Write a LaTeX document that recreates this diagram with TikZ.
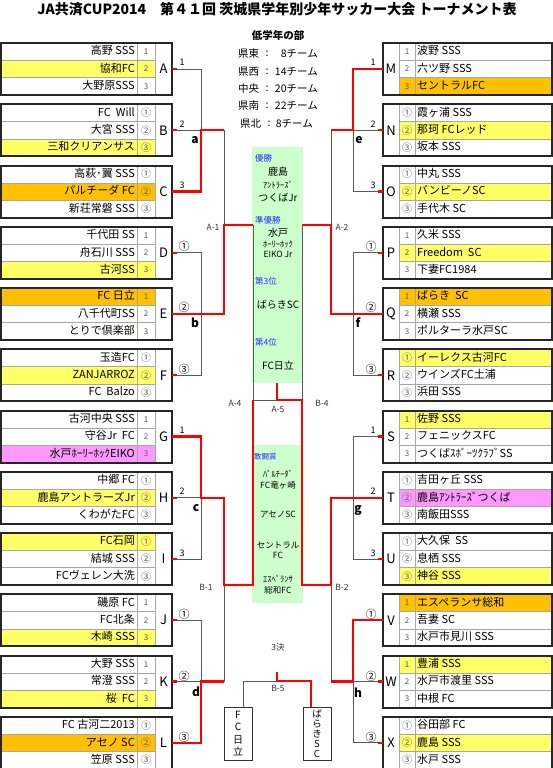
\documentclass[tikz,border=0pt]{standalone}
\usepackage{fontspec}
\setmainfont{Noto Sans CJK JP}
\definecolor{yel}{RGB}{255,255,102}
\definecolor{org}{RGB}{255,192,0}
\definecolor{pnk}{RGB}{255,153,255}
\definecolor{grn}{RGB}{204,255,204}
\definecolor{blu}{RGB}{40,40,255}
\definecolor{rd}{RGB}{255,0,0}
\definecolor{gl}{RGB}{90,90,90}
\newcommand\crc{\fontsize{10}{10}\selectfont}
\tikzset{
  gline/.style={draw=gl, line width=0.8pt},
  rline/.style={draw=rd, line width=2.4pt},
  cellline/.style={draw=black!35, line width=0.6pt},
  boxline/.style={draw=black!85, line width=2pt},
  nametxt/.style={font=\fontsize{11}{11}\selectfont, inner sep=0pt, text height=8.5pt, text depth=2pt},
  numtxt/.style={font=\fontsize{8}{8}\selectfont, text=black!65, inner sep=0pt},
  lettercell/.style={font=\fontsize{13}{13}\selectfont, inner sep=0pt, minimum height=52pt},
  blab/.style={font=\fontsize{9}{9}\selectfont, inner sep=0pt},
  clab/.style={font=\fontsize{11}{11}\selectfont, inner sep=0pt},
  brl/.style={font=\bfseries\fontsize{12}{12}\selectfont, inner sep=0pt},
  mlab/.style={font=\fontsize{8.5}{8.5}\selectfont, text=black!80, inner sep=0pt},
  infotxt/.style={font=\fontsize{10.5}{10.5}\selectfont, inner sep=0pt},
  bluetxt/.style={font=\fontsize{8.5}{8.5}\selectfont, text=blu, inner sep=0pt, anchor=west},
  gtxt/.style={font=\fontsize{10}{10}\selectfont, inner sep=0pt},
  gsmall/.style={font=\fontsize{8.5}{8.5}\selectfont, inner sep=0pt},
  vbox/.style={draw=black!80, line width=0.7pt, minimum width=28pt, minimum height=53pt, inner sep=0pt, align=center},
}
% left row: letter, top, k, fill, num, name
\newcommand\LR[6]{%
  \fill[#4] (0,{#2+17.333*#3}) rectangle (155,{#2+17.333*(#3+1)});
  \node[numtxt] (#1n#3) at (146,{#2+17.333*#3+8.667}) {#5};
  \node[nametxt,anchor=east] (#1t#3) at (135,{#2+17.333*#3+8.667}) {#6};
}
\newcommand\LG[5]{%
  \LR{#1}{#2}{0}#3
  \LR{#1}{#2}{1}#4
  \LR{#1}{#2}{2}#5
  \draw[cellline] (1,{#2+17.333}) -- (155,{#2+17.333});
  \draw[cellline] (1,{#2+34.667}) -- (155,{#2+34.667});
  \draw[cellline] (137,#2) -- (137,{#2+52});
  \draw[cellline] (155,#2) -- (155,{#2+52});
  \node[lettercell, minimum width=17pt] (#1) at (163.5,{#2+26}) {#1};
  \draw[boxline] (1,#2) rectangle (172,{#2+52});
}
% right row
\newcommand\RR[6]{%
  \fill[#4] (399,{#2+17.333*#3}) rectangle (552,{#2+17.333*(#3+1)});
  \node[numtxt] (#1n#3) at (407,{#2+17.333*#3+8.667}) {#5};
  \node[nametxt,anchor=west] (#1t#3) at (417,{#2+17.333*#3+8.667}) {#6};
}
\newcommand\RG[5]{%
  \RR{#1}{#2}{0}#3
  \RR{#1}{#2}{1}#4
  \RR{#1}{#2}{2}#5
  \draw[cellline] (399,{#2+17.333}) -- (552,{#2+17.333});
  \draw[cellline] (399,{#2+34.667}) -- (552,{#2+34.667});
  \draw[cellline] (399,#2) -- (399,{#2+52});
  \draw[cellline] (415,#2) -- (415,{#2+52});
  \node[lettercell, minimum width=16pt] (#1) at (391,{#2+26}) {#1};
  \draw[boxline] (383,#2) rectangle (552,{#2+52});
}
\begin{document}
\begin{tikzpicture}[x=1pt,y=-1pt]
\useasboundingbox (0,0) rectangle (553,768);
\fill[white] (0,0) rectangle (553,768);

% title and info
\node[font=\bfseries\fontsize{14}{14}\selectfont, inner sep=0pt] (title) at (277,9) {JA共済CUP2014　第４１回 茨城県学年別少年サッカー大会 トーナメント表};
\node[font=\bfseries\fontsize{10.5}{10.5}\selectfont, inner sep=0pt] (bu) at (278,35) {低学年の部};
\node[infotxt,anchor=west] (k1) at (238,54) {県東};
\node[infotxt] (k1c) at (267,54) {:};
\node[infotxt,anchor=east] (k1n) at (318,54) {8チーム};
\node[infotxt,anchor=west] (k2) at (238,72) {県西};
\node[infotxt] (k2c) at (267,72) {:};
\node[infotxt,anchor=east] (k2n) at (318,72) {14チーム};
\node[infotxt,anchor=west] (k3) at (238,89) {中央};
\node[infotxt] (k3c) at (267,89) {:};
\node[infotxt,anchor=east] (k3n) at (318,89) {20チーム};
\node[infotxt,anchor=west] (k4) at (238,106) {県南};
\node[infotxt] (k4c) at (267,106) {:};
\node[infotxt,anchor=east] (k4n) at (318,106) {22チーム};
\node[infotxt,anchor=west] (k5) at (240,124) {県北};
\node[infotxt] (k5c) at (269,124) {:};
\node[infotxt,anchor=east] (k5n) at (313,124) {8チーム};

% green boxes
\node[fill=grn, minimum width=51pt, minimum height=236pt, inner sep=0pt] (gb1) at (277.5,265) {};
\node[fill=grn, minimum width=51pt, minimum height=158pt, inner sep=0pt] (gb2) at (277.5,524) {};
\node[bluetxt] (p1) at (255,158) {優勝};
\node[gtxt] (w1a) at (278,172) {鹿島};
\node[gsmall] (w1b) at (278,185) {ｱﾝﾄﾗｰｽﾞ};
\node[gtxt] (w1c) at (278,198) {つくばJr};
\node[bluetxt] (p2) at (255,220) {準優勝};
\node[gtxt] (w2a) at (278,233) {水戸};
\node[gsmall] (w2b) at (278,244) {ﾎｰﾘｰﾎｯｸ};
\node[gsmall] (w2c) at (278,254) {EIKO Jr};
\node[bluetxt] (p3) at (255,281) {第3位};
\node[gtxt] (w3) at (278,305) {ばらきSC};
\node[bluetxt] (p4) at (255,342) {第4位};
\node[gtxt] (w4) at (278,366) {FC日立};
\node[bluetxt, font=\fontsize{7.5}{7.5}\selectfont] (p5) at (254,457) {敢闘賞};
\node[gsmall] (f1a) at (278,474) {ﾊﾟﾙﾁｰﾀﾞ};
\node[gsmall] (f1b) at (278,485) {FC竜ヶ崎};
\node[gsmall] (f2) at (278,514) {アセノSC};
\node[gsmall] (f3a) at (278,545) {セントラル};
\node[gsmall] (f3b) at (278,555) {FC};
\node[gsmall] (f4a) at (278,579) {ｴｽﾍﾟﾗﾝｻ};
\node[gsmall] (f4b) at (278,590) {総和FC};

% left groups
\LG{A}{43}{{white}{1}{高野 SSS}}{{yel}{2}{協和FC}}{{white}{3}{大野原SSS}}
\LG{B}{104.25}{{white}{{\crc ①}}{FC\ \ Will}}{{white}{{\crc ②}}{大宮 SSS}}{{yel}{{\crc ③}}{三和クリアンサス}}
\LG{C}{165.5}{{white}{{\crc ①}}{高萩･翼 SSS}}{{org}{{\crc ②}}{パルチーダ FC}}{{white}{{\crc ③}}{新荘常磐 SSS}}
\LG{D}{226.75}{{white}{1}{千代田 SS}}{{white}{2}{舟石川 SSS}}{{yel}{3}{古河SS}}
\LG{E}{288}{{org}{1}{FC 日立}}{{white}{2}{八千代町SS}}{{white}{3}{とりで倶楽部}}
\LG{F}{349.25}{{white}{{\crc ①}}{玉造FC}}{{yel}{{\crc ②}}{ZANJARROZ\hspace{11pt}}}{{white}{{\crc ③}}{FC\ \ Balzo}}
\LG{G}{410.5}{{white}{1}{古河中央 SSS}}{{white}{2}{守谷Jr\ \ FC}}{{pnk}{3}{水戸ﾎｰﾘｰﾎｯｸEIKO}}
\LG{H}{471.75}{{white}{{\crc ①}}{中郷 FC}}{{yel}{{\crc ②}}{鹿島アントラーズJr}}{{white}{{\crc ③}}{くわがたFC}}
\LG{I}{533}{{yel}{{\crc ①}}{FC石岡}}{{white}{{\crc ②}}{結城 SSS}}{{white}{{\crc ③}}{FCヴェレン大洗}}
\LG{J}{594.25}{{white}{1}{磯原 FC}}{{white}{2}{FC北条}}{{yel}{3}{木崎 SSS}}
\LG{K}{655.5}{{white}{1}{大野 SSS}}{{white}{2}{常澄 SSS}}{{yel}{3}{桜\ \ FC}}
\LG{L}{716.75}{{white}{{\crc ①}}{FC 古河二2013}}{{org}{{\crc ②}}{アセノ SC}}{{white}{{\crc ③}}{笠原 SSS}}

% right groups
\RG{M}{43}{{white}{1}{波野 SSS}}{{white}{2}{六ツ野 SSS}}{{org}{3}{セントラルFC}}
\RG{N}{104.25}{{white}{{\crc ①}}{霞ヶ浦 SSS}}{{yel}{{\crc ②}}{那珂 FCレッド}}{{white}{{\crc ③}}{坂本 SSS}}
\RG{O}{165.5}{{white}{{\crc ①}}{中丸 SSS}}{{yel}{{\crc ②}}{バンビーノSC}}{{white}{{\crc ③}}{手代木 SC}}
\RG{P}{226.75}{{white}{1}{久米 SSS}}{{yel}{2}{Freedom\ \ SC}}{{white}{3}{下妻FC1984}}
\RG{Q}{288}{{org}{1}{ばらき\ \ SC}}{{white}{2}{横瀬 SSS}}{{white}{3}{ポルターラ水戸SC}}
\RG{R}{349.25}{{yel}{{\crc ①}}{イーレクス古河FC}}{{white}{{\crc ②}}{ウインズFC土浦}}{{white}{{\crc ③}}{浜田 SSS}}
\RG{S}{410.5}{{yel}{1}{佐野 SSS}}{{white}{2}{フェニックスFC}}{{white}{3}{つくばｽﾎﾟｰﾂｸﾗﾌﾞSS}}
\RG{T}{471.75}{{white}{{\crc ①}}{吉田ヶ丘 SSS}}{{pnk}{{\crc ②}}{鹿島ｱﾝﾄﾗｰｽﾞつくば}}{{white}{{\crc ③}}{南飯田SSS}}
\RG{U}{533}{{white}{{\crc ①}}{大久保\ \ SS}}{{white}{{\crc ②}}{息栖 SSS}}{{yel}{{\crc ③}}{神谷 SSS}}
\RG{V}{594.25}{{org}{1}{エスペランサ総和}}{{white}{2}{吾妻 SC}}{{white}{3}{水戸市見川 SSS}}
\RG{W}{655.5}{{yel}{1}{豊浦 SSS}}{{white}{2}{水戸市渡里 SSS}}{{white}{3}{中根 FC}}
\RG{X}{716.75}{{white}{{\crc ①}}{谷田部 FC}}{{yel}{{\crc ②}}{鹿島 SSS}}{{white}{{\crc ③}}{水戸 SSS}}

% junction coordinates
\coordinate (a1) at (201,69); \coordinate (a2) at (201,130.25); \coordinate (a3) at (201,191.5);
\coordinate (aout) at (224,130.25); \coordinate (A1m) at (224,225); \coordinate (A1e) at (224,314);
\coordinate (b1) at (201,252.75); \coordinate (b3) at (201,375.25);
\coordinate (c1) at (201,436.5); \coordinate (c2) at (201,497.75); \coordinate (c3) at (201,559);
\coordinate (cout) at (224,497.75);
\coordinate (d1) at (201,620.25); \coordinate (d2) at (201,681.5); \coordinate (d3) at (201,742.75);
\coordinate (dout) at (224,681.5); \coordinate (B1m) at (224,585);
\coordinate (A4t) at (253,225); \coordinate (A4m) at (253,400); \coordinate (A4b) at (253,585);
\coordinate (fin) at (277,400); \coordinate (finT) at (277,383);
\coordinate (e1) at (353,69); \coordinate (e2) at (353,130.25); \coordinate (e3) at (353,191.5);
\coordinate (eout) at (331,130.25); \coordinate (A2m) at (331,225); \coordinate (A2e) at (331,314);
\coordinate (f1) at (353,252.75); \coordinate (f3) at (353,375.25);
\coordinate (g1) at (353,436.5); \coordinate (g3) at (353,559); \coordinate (gT) at (331,497.75);
\coordinate (h1) at (353,620.25); \coordinate (h2) at (353,681.5); \coordinate (h3) at (353,742.75);
\coordinate (hout) at (331,681.5); \coordinate (B2m) at (331,585);
\coordinate (B4t) at (302,225); \coordinate (B4m) at (302,400); \coordinate (B4b) at (302,585);
\coordinate (t5L) at (243,681); \coordinate (t5M) at (277,681); \coordinate (t5T) at (277,672); \coordinate (t5R) at (311,681);

% third place boxes
\node[vbox, font=\fontsize{10}{12.3}\selectfont] (fc) at (238,733.5) {F\\C\\日\\立};
\node[vbox, font=\fontsize{9.5}{10}\selectfont] (bsc) at (317,733.5) {ば\\ら\\き\\S\\C};

% gray connectors
\draw[gline] (A.east) -- (a1) -- (a3);
\draw[gline] (B.east) -- (a2);
\draw[gline] (aout) -- (A1m);
\draw[gline] (D.east) -- (b1) -- (b3) -- (F.east);
\draw[gline] (A4t) -- (A4m) -- (fin);
\draw[gline] (H.east) -- (c2) -- (c3) -- (I.east);
\draw[gline] (J.east) -- (d1) -- (d2);
\draw[gline] (K.east) -- (d2);
\draw[gline] (dout) -- (B1m);
\draw[gline] (N.west) -- (e2) -- (e3) -- (O.west);
\draw[gline] (eout) -- (A2m);
\draw[gline] (P.west) -- (f1) -- (f3) -- (R.west);
\draw[gline] (B4t) -- (B4m);
\draw[gline] (S.west) -- (g1) -- (g3) -- (U.west);
\draw[gline] (W.west) -- (h2) -- (h3) -- (X.west);
\draw[gline] (hout) -- (B2m);
\draw[gline] (t5L |- fc.north) -- (t5L) -- (t5M);

% red stubs
\foreach \g in {A,B,D,F,H,I,J,K} \draw[rline] (\g.east) -- ++(5,0);
\foreach \g in {N,O,P,R,S,U,W,X} \draw[rline] (\g.west) -- ++(-5,0);

% red paths
\draw[rline] (C.east) -- (a3) -- (a2) -- (aout);
\draw[rline] (E.east) -- (A1e) -- (A1m) -- (A4t);
\draw[rline] (G.east) -- (c1) -- (c2) -- (cout) -- (B1m) -- (A4b) -- (A4m);
\draw[rline] (L.east) -- (d3) -- (d2) -- (dout);
\draw[rline] (M.west) -- (e1) -- (e2) -- (eout);
\draw[rline] (Q.west) -- (A2e) -- (A2m) -- (B4t);
\draw[rline] (T.west) -- (gT) -- (B2m) -- (B4b) -- (B4m) -- (fin) -- (finT);
\draw[rline] (V.west) -- (h1) -- (h2) -- (hout);
\draw[rline] (t5R |- bsc.north) -- (t5R) -- (t5M) -- (t5T);

% bracket labels left
\node[blab] (lA) at (182,62) {1};
\node[blab] (lB) at (182,124) {2};
\node[blab] (lC) at (182,185) {3};
\node[clab] (lD) at (184,246) {①};
\node[clab] (lE) at (184,307) {②};
\node[clab] (lF) at (184,369) {③};
\node[blab] (lG) at (182,430) {1};
\node[blab] (lH) at (182,491) {2};
\node[blab] (lI) at (182,553) {3};
\node[clab] (lJ) at (184,614) {①};
\node[clab] (lK) at (184,676) {②};
\node[clab] (lL) at (184,737) {③};
% right
\node[blab] (lM) at (373,62) {1};
\node[blab] (lN) at (373,124) {2};
\node[blab] (lO) at (373,185) {3};
\node[clab] (lP) at (371,246) {①};
\node[clab] (lQ) at (371,307) {②};
\node[clab] (lR) at (371,369) {③};
\node[blab] (lS) at (373,430) {1};
\node[blab] (lT) at (373,491) {2};
\node[blab] (lU) at (373,553) {3};
\node[clab] (lV) at (371,614) {①};
\node[clab] (lW) at (371,676) {②};
\node[clab] (lX) at (371,737) {③};

\node[brl] (ba) at (195,140) {a};
\node[brl] (bb) at (195,323) {b};
\node[brl] (bc) at (196,508) {c};
\node[brl] (bd) at (196,692) {d};
\node[brl] (be) at (359,140) {e};
\node[brl] (bf) at (358,323) {f};
\node[brl] (bg) at (358,510) {g};
\node[brl] (bh) at (358,693) {h};

\node[mlab] (mA1) at (213,227) {A-1};
\node[mlab] (mA2) at (342,227) {A-2};
\node[mlab] (mA4) at (235,403) {A-4};
\node[mlab] (mB4) at (322,403) {B-4};
\node[mlab] (mA5) at (278,409) {A-5};
\node[mlab] (mB1) at (206,587) {B-1};
\node[mlab] (mB2) at (342,587) {B-2};
\node[mlab] (m3) at (278,647) {3決};
\node[mlab] (mB5) at (278,688) {B-5};
\end{tikzpicture}
\end{document}
